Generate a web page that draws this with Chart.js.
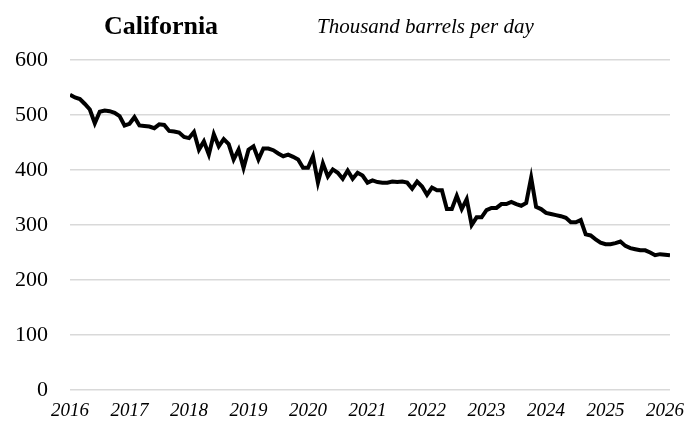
<!DOCTYPE html>
<html>
<head>
<meta charset="utf-8">
<script src="https://cdn.jsdelivr.net/npm/chart.js@4"></script>
<style>
  body { margin: 0; background: #fff; }
  #wrap { position: relative; width: 685px; height: 426px; }
  .title { position: absolute; font-family: "Liberation Serif", serif; color: #000; white-space: nowrap; line-height: 1; }
  #stateName { left: 104px; top: 13px; font-size: 26px; font-weight: bold; }
  #units { left: 317px; top: 16px; font-size: 21px; font-style: italic; }
</style>
</head>
<body>
<div id="wrap">
  <canvas id="chart" width="685" height="426"></canvas>
  <div class="title" id="stateName">California</div>
  <div class="title" id="units">Thousand barrels per day</div>
</div>
<script>
// monthly production, Jan 2016 onwards (thousand barrels per day)
const prod2016 = [537, 532, 529, 520, 510, 485, 506, 508, 507, 504, 498, 481];
const prod2017 = [484, 496, 481, 480, 479, 476, 483, 482, 471, 470, 468, 460];
const prod2018 = [458, 469, 437, 452, 428, 465, 443, 456, 447, 419, 437, 404];
const prod2019 = [437, 443, 419, 439, 439, 436, 430, 425, 428, 424, 419, 404];
const prod2020 = [404, 425, 377, 412, 388, 401, 395, 384, 399, 384, 395, 390];
const prod2021 = [377, 381, 378, 377, 377, 379, 378, 379, 377, 366, 379, 370];
const prod2022 = [355, 368, 363, 363, 329, 329, 353, 329, 347, 300, 314, 314];
const prod2023 = [327, 331, 331, 338, 338, 342, 338, 335, 340, 386, 333, 329];
const prod2024 = [322, 320, 318, 316, 313, 305, 305, 309, 283, 281, 274, 268];
const prod2025 = [265, 265, 267, 270, 262, 258, 256, 254, 254, 250, 245, 247];
const prod2026 = [246, 245];

const yearLabels = ["2016", "2017", "2018", "2019", "2020", "2021", "2022", "2023", "2024", "2025", "2026"];
const yTicks = [0, 100, 200, 300, 400, 500, 600];

const production = [].concat(prod2016, prod2017, prod2018, prod2019, prod2020,
  prod2021, prod2022, prod2023, prod2024, prod2025, prod2026);
const points = production.map((v, i) => ({ x: i, y: v }));

const serif = "'Liberation Serif', 'Times New Roman', serif";

new Chart(document.getElementById("chart"), {
  type: "line",
  data: {
    datasets: [
      {
        data: points,
        borderColor: "#000",
        borderWidth: 4,
        pointRadius: 0,
        tension: 0,
        fill: false,
      },
    ],
  },
  options: {
    responsive: false,
    animation: false,
    layout: { padding: { top: 60, left: 15, right: 15, bottom: 5 } },
    plugins: {
      legend: { display: false },
      tooltip: { enabled: false },
    },
    scales: {
      x: {
        type: "linear",
        min: 0,
        max: production.length - 1,
        afterBuildTicks: (axis) => {
          axis.ticks = yearLabels.map((_, k) => ({ value: k * 12 }));
        },
        afterFit: (axis) => {
          axis.height = 31;
          axis.paddingLeft = 0;
          axis.paddingRight = 0;
        },
        ticks: {
          callback: (v) => yearLabels[Math.round(v / 12)],
          font: { family: serif, size: 19, style: "italic" },
          color: "#000",
          padding: 10,
          maxRotation: 0,
          autoSkip: false,
        },
        grid: { display: false, drawTicks: false },
        border: { display: false },
      },
      y: {
        min: yTicks[0],
        max: yTicks[yTicks.length - 1],
        afterBuildTicks: (axis) => {
          axis.ticks = yTicks.map((v) => ({ value: v }));
        },
        afterFit: (axis) => {
          axis.width = 55;
        },
        ticks: {
          font: { family: serif, size: 22 },
          color: "#000",
          padding: 22,
        },
        grid: { color: "#d9d9d9", lineWidth: 1.5, drawTicks: false },
        border: { display: false },
      },
    },
  },
});
</script>
</body>
</html>
